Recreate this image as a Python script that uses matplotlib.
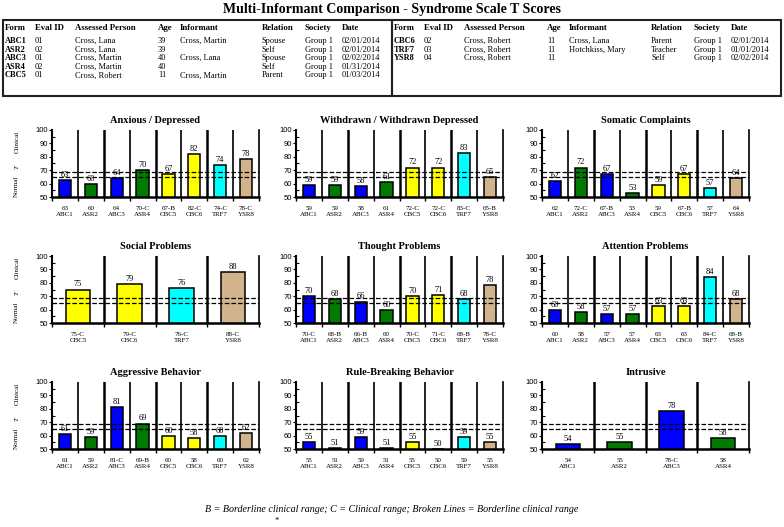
import numpy as np
import matplotlib
matplotlib.use('Agg')
import matplotlib.pyplot as plt
from matplotlib.patches import Rectangle
from matplotlib.ticker import MultipleLocator

plt.rcParams.update({'font.family': 'Liberation Serif'})

W, H = 784, 527
SANS = 'Liberation Sans'

# ---- header table ----
COLS = ['Form', 'Eval ID', 'Assessed Person', 'Age', 'Informant', 'Relation', 'Society', 'Date']
left_rows = [
    ['ABC1', '01', 'Cross, Lana', '39', 'Cross, Martin', 'Spouse', 'Group 1', '02/01/2014'],
    ['ASR2', '02', 'Cross, Lana', '39', '', 'Self', 'Group 1', '02/01/2014'],
    ['ABC3', '01', 'Cross, Martin', '40', 'Cross, Lana', 'Spouse', 'Group 1', '02/02/2014'],
    ['ASR4', '02', 'Cross, Martin', '40', '', 'Self', 'Group 1', '01/31/2014'],
    ['CBC5', '01', 'Cross, Robert', '11', 'Cross, Martin', 'Parent', 'Group 1', '01/03/2014'],
]
right_rows = [
    ['CBC6', '02', 'Cross, Robert', '11', 'Cross, Lana', 'Parent', 'Group 1', '02/01/2014'],
    ['TRF7', '03', 'Cross, Robert', '11', 'Hotchkiss, Mary', 'Teacher', 'Group 1', '01/01/2014'],
    ['YSR8', '04', 'Cross, Robert', '11', '', 'Self', 'Group 1', '02/02/2014'],
]

# ---- syndrome scales ----
titles = ['Anxious / Depressed', 'Withdrawn / Withdrawn Depressed', 'Somatic Complaints',
          'Social Problems', 'Thought Problems', 'Attention Problems',
          'Aggressive Behavior', 'Rule-Breaking Behavior', 'Intrusive']
forms8 = ['ABC1', 'ASR2', 'ABC3', 'ASR4', 'CBC5', 'CBC6', 'TRF7', 'YSR8']
forms = [forms8, forms8, forms8,
         ['CBC5', 'CBC6', 'TRF7', 'YSR8'], forms8, forms8,
         forms8, forms8, ['ABC1', 'ASR2', 'ABC3', 'ASR4']]
scores = [
    [63, 60, 64, 70, 67, 82, 74, 78],
    [59, 59, 58, 61, 72, 72, 83, 65],
    [62, 72, 67, 53, 59, 67, 57, 64],
    [75, 79, 76, 88],
    [70, 68, 66, 60, 70, 71, 68, 78],
    [60, 58, 57, 57, 63, 63, 84, 68],
    [61, 59, 81, 69, 60, 58, 60, 62],
    [55, 51, 59, 51, 55, 50, 59, 55],
    [54, 55, 78, 58],
]
flags = [
    ['', '', '', 'C', 'B', 'C', 'C', 'C'],
    ['', '', '', '', 'C', 'C', 'C', 'B'],
    ['', 'C', 'B', '', '', 'B', '', ''],
    ['C', 'C', 'C', 'C'],
    ['C', 'B', 'B', '', 'C', 'C', 'B', 'C'],
    ['', '', '', '', '', '', 'C', 'B'],
    ['', '', 'C', 'B', '', '', '', ''],
    ['', '', '', '', '', '', '', ''],
    ['', '', 'C', ''],
]
BORDER_LO, BORDER_HI = 65, 69

COLORS = {'ABC': '#0000FF', 'ASR': '#007A00', 'CBC': '#FFFF00',
          'TRF': '#00FFFF', 'YSR': '#D2B48C'}

fig = plt.figure(figsize=(W / 100, H / 100), dpi=100)


def px_axes(x, y, w, h):
    return fig.add_axes([x / W, 1 - (y + h) / H, w / W, h / H])


fig.text(392 / W, 1 - 9 / H, 'Multi-Informant Comparison - Syndrome Scale T Scores',
         ha='center', va='center', fontsize=10, fontweight='bold')

# tables
col_x = [5, 35, 75, 158, 180, 262, 305, 342]
for off, rows, bx, bw in [(0, left_rows, 3, 389), (389, right_rows, 392, 389)]:
    fig.patches.append(Rectangle((bx / W, 1 - 96 / H), bw / W, 76 / H, transform=fig.transFigure,
                                 fill=False, lw=1.5, ec='#222222'))
    for j, c in enumerate(COLS):
        fig.text((col_x[j] + off) / W, 1 - 28 / H, c, fontsize=6.3, fontweight='bold',
                 va='center', ha='left')
    for i, r in enumerate(rows):
        yy = 1 - (41 + i * 8.6) / H
        for j, v in enumerate(r):
            fig.text((col_x[j] + off) / W, yy, v, fontsize=6.0, va='center', ha='left',
                     fontweight='bold' if j == 0 else 'normal')

# panels
panel_x = [52, 296, 542]
panel_top = [130, 256, 382]
title_y = [118, 244, 371]
pw, ph = 207, 67

for k in range(9):
    r, c = divmod(k, 3)
    ax = px_axes(panel_x[c], panel_top[r], pw, ph)
    fm, sc, fl = forms[k], scores[k], flags[k]
    n = len(fm)
    xs = np.arange(n)
    cols = [COLORS[f[:3]] for f in fm]
    heights = [s - 50 for s in sc]
    ax.bar(xs, heights, bottom=50, width=0.47, color=cols, edgecolor='black', lw=1.1, zorder=3)
    for x, s in zip(xs, sc):
        ax.text(x, s + 0.8, str(s), ha='center', va='bottom', fontsize=6, zorder=4)
    for b in range(1, n):
        lw = 1.8 if (n == 4 or b % 2 == 0) else 1.2
        ax.axvline(b - 0.5, color='black', lw=lw, zorder=2)
    ax.axhline(BORDER_LO, color='black', ls='--', lw=0.9, zorder=5)
    ax.axhline(BORDER_HI, color='black', ls='--', lw=0.9, zorder=5)
    ax.set_xlim(-0.5, n - 0.5)
    ax.set_ylim(50, 100)
    ax.spines['top'].set_visible(False)
    ax.spines['left'].set_linewidth(1.5)
    ax.spines['bottom'].set_linewidth(1.8)
    ax.spines['right'].set_linewidth(1.2)
    ax.yaxis.set_major_locator(MultipleLocator(10))
    ax.yaxis.set_minor_locator(MultipleLocator(5))
    ax.tick_params(axis='y', which='major', length=2, width=0.8, pad=1, labelsize=5.5)
    ax.tick_params(axis='y', which='minor', length=2, width=0.8, direction='in')
    for lab in ax.get_yticklabels():
        lab.set_family(SANS)
    ax.set_xticks(np.arange(n + 1) - 0.5)
    ax.set_xticklabels([])
    ax.tick_params(axis='x', length=3, width=1.0)
    for x, f, s, g in zip(xs, fm, sc, fl):
        lab = f'{s}-{g}' if g else f'{s}'
        ax.text(x, -0.14, f'{lab}\n{f}', transform=ax.get_xaxis_transform(), ha='center',
                va='top', fontsize=5, linespacing=1.25)
    ax.set_title(titles[k], fontsize=7.5, fontweight='bold', pad=5)
    if c == 0:
        for txt, yv in [('Normal', 58), ('T', 72), ('Clinical', 91)]:
            ax.text(-0.17, yv, txt, transform=ax.get_yaxis_transform(), rotation=90,
                    ha='center', va='center', fontsize=5,
                    fontstyle='italic' if txt == 'T' else 'normal')

fig.text(392 / W, 1 - 510 / H,
         'B = Borderline clinical range; C = Clinical range; Broken Lines = Borderline clinical range',
         ha='center', va='center', fontsize=7.2, fontstyle='italic')
fig.text(277 / W, 1 - 521 / H, '*', ha='center', va='center', fontsize=6)

fig.savefig('out.png', dpi=100)
